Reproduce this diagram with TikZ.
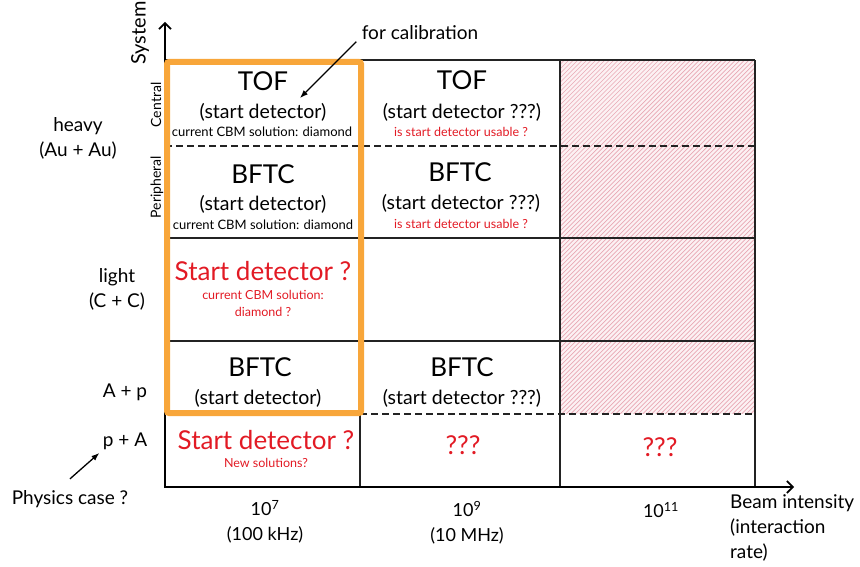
\documentclass[tikz,border=0pt]{standalone}
\usepackage{fontspec}
\setmainfont{Lato}
\usetikzlibrary{arrows.meta}
\definecolor{cborange}{RGB}{248,166,58}
\definecolor{cbred}{RGB}{226,26,36}
\definecolor{hatchline}{RGB}{232,168,180}
\definecolor{hatchbg}{RGB}{252,241,243}
\definecolor{gridc}{RGB}{35,35,35}
\begin{document}
\begin{tikzpicture}[x=1pt,y=-1pt,
  big/.style={font=\fontsize{26}{28}\selectfont},
  mid/.style={font=\fontsize{19.5}{21}\selectfont},
  note/.style={font=\fontsize{13}{14}\selectfont},
  rednote/.style={font=\fontsize{12.5}{14}\selectfont,text=cbred},
  redbig/.style={font=\fontsize{26}{28}\selectfont,text=cbred},
  redq/.style={font=\fontsize{26}{28}\selectfont,text=cbred},
  lab/.style={font=\fontsize{19}{25}\selectfont,align=center},
  ticklab/.style={font=\fontsize{18}{25}\selectfont,align=center},
  sidelab/.style={font=\fontsize{14}{16}\selectfont,rotate=90},
  gridline/.style={draw=gridc,line width=1.4pt},
  dashline/.style={draw=gridc,line width=1.4pt,dash pattern=on 7pt off 4pt},
  axis/.style={draw=black,line width=1.6pt,-{Straight Barb[length=6pt,width=12pt,line width=1.6pt]}},
  smallarr/.style={draw=black,line width=1.3pt,-{Latex[length=8pt,width=6pt]}},
  orangebox/.style={draw=cborange,line width=6pt,rounded corners=2pt}]
\useasboundingbox (0,0) rectangle (860,567);
% hatched region
\fill[hatchbg] (560,60) rectangle (755,414);
\begin{scope}
  \clip (560,60) rectangle (755,414);
  \foreach \a in {206,210.5,...,760}
    \draw[hatchline,line width=0.7pt] (\a,414) -- ++(354,-354);
\end{scope}
% grid
\draw[gridline] (165,60) -- (755,60);
\draw[gridline] (165,238) -- (755,238);
\draw[gridline] (165,341) -- (755,341);
\draw[dashline] (165,146) -- (755,146);
\draw[dashline] (360,414) -- (755,414);
\draw[gridline] (360,60) -- (360,487);
\draw[gridline] (560,60) -- (560,487);
\draw[gridline] (755,60) -- (755,487);
% axes
\draw[axis] (164,487) -- (794,487);
\draw[axis] (165,487) -- (165,22);
% orange box
\draw[orangebox] (167,62) rectangle (361,413);
% column 1
\node[big] (tof1) at (263,81) {TOF};
\node[mid] (sd1) at (263,112) {(start detector)};
\node[note] (cs1) at (262,132) {current CBM solution: diamond};
\node[big] (bftc1) at (263,174) {BFTC};
\node[mid] (sd2) at (263,204) {(start detector)};
\node[note] (cs2) at (263,225) {current CBM solution: diamond};
\node[redbig] (q1) at (263,271) {Start detector ?};
\node[rednote] (cs3) at (263,295) {current CBM solution:};
\node[rednote] (cs4) at (263,312) {diamond ?};
\node[big] (bftc3) at (260,367) {BFTC};
\node[mid] (sd4) at (258,398) {(start detector)};
\node[redbig] (q2) at (266,440) {Start detector ?};
\node[rednote] (ns) at (266,463) {New solutions?};
% column 2
\node[big] (tof2) at (462,80) {TOF};
\node[mid] (sd5) at (462,112) {(start detector ???)};
\node[rednote] (us1) at (461,132) {is start detector usable ?};
\node[big] (bftc4) at (460,172) {BFTC};
\node[mid] (sd6) at (461,203) {(start detector ???)};
\node[rednote] (us2) at (461,224) {is start detector usable ?};
\node[big] (bftc5) at (462,367) {BFTC};
\node[mid] (sd7) at (462,398) {(start detector ???)};
\node[redq] (qq1) at (463,445) {???};
% column 3
\node[redq] (qq2) at (660,447) {???};
% left labels
\node[sidelab,font=\fontsize{20}{22}\selectfont] (sys) at (140,33) {System};
\node[sidelab] (central) at (156,105) {Central};
\node[sidelab] (periph) at (157,187) {Peripheral};
\node[lab] (heavy) at (78,138) {heavy\\(Au + Au)};
\node[lab] (light) at (117,289) {light\\(C + C)};
\node[lab] (Ap) at (125,392) {A + p};
\node[lab] (pA) at (125,441) {p + A};
\node[lab] (phys) at (70,499) {Physics case ?};
\draw[smallarr] ([yshift=8pt]phys.north) -- (pA.south west);
% calibration
\node[lab] (calib) at (420,33) {for calibration};
\coordinate (calend) at (300,98);
\draw[smallarr] ([xshift=-2pt,yshift=2pt]calib.south west) -- (calend);
% x axis labels
\node[ticklab] (r7) at (265,522) {10\textsuperscript{7}\\(100 kHz)};
\node[ticklab] (r9) at (467,523) {10\textsuperscript{9}\\(10 MHz)};
\node[ticklab] (r11) at (661,510) {10\textsuperscript{11}};
\node[lab,align=left,anchor=north west,inner sep=0pt] (beam) at (730,494) {Beam intensity\\(interaction\\rate)};
\end{tikzpicture}
\end{document}
